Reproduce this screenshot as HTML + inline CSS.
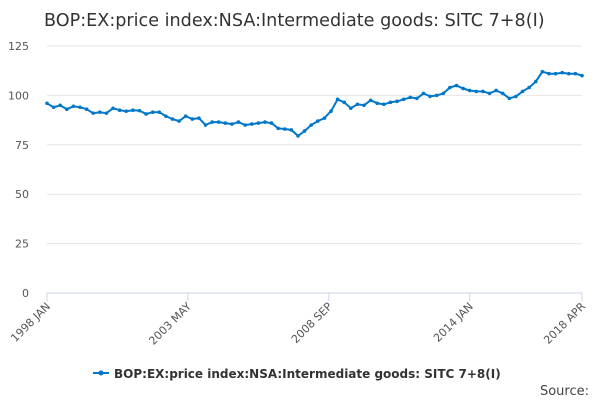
<!DOCTYPE html>
<html><head><meta charset="utf-8"><style>
body{margin:0;background:#fff;font-family:"Liberation Sans","DejaVu Sans",sans-serif}
svg text{font-family:"DejaVu Sans","Liberation Sans",sans-serif}
</style></head><body>
<svg id="chart" width="600" height="400" viewBox="0 0 600 400">
<text x="44" y="26" font-size="17.6" fill="#333">BOP:EX:price index:NSA:Intermediate goods: SITC 7+8(I)</text>
<g id="grid"></g><g id="yl"></g><g id="xl"></g>
<path id="line" fill="none" stroke="#0077c8" stroke-width="2"></path>
<g id="pts"></g>
<g>
<line x1="93" y1="373" x2="109" y2="373" stroke="#0077c8" stroke-width="2"/>
<circle cx="101" cy="373" r="2.5" fill="#0077c8"/>
<text x="114" y="378" font-size="12" font-weight="bold" fill="#333">BOP:EX:price index:NSA:Intermediate goods: SITC 7+8(I)</text>
</g>
<text x="589" y="395" font-size="13" text-anchor="end" fill="#444">Source:</text>
</svg>
<script>
const values=[96,94,95,93,94.5,94,93,91,91.5,91,93.5,92.5,92,92.5,92.3,90.6,91.5,91.5,89.5,88,87,89.5,88,88.5,85,86.5,86.5,86,85.5,86.5,85,85.5,86,86.5,86,83.3,83,82.5,79.5,82,85,87,88.5,92,98,96.5,93.5,95.5,95,97.5,96,95.5,96.5,97,98,99,98.5,101,99.5,100,101,104,105,103.5,102.5,102,102,101,102.5,101,98.5,99.5,102,104,107,112,111,111,111.5,111,111,110];
const yTicks=[0,25,50,75,100,125];
const xTickLabels=["1998 JAN","2003 MAY","2008 SEP","2014 JAN","2018 APR"];
const xTickMonths=[0,64,128,192,243];
const NS="http://www.w3.org/2000/svg";
const x0=47,x1=582,yb=293,yt=46;
const xs=m=>x0+(x1-x0)*m/243;
const ys=v=>yb-(yb-yt)*v/125;
function mk(t,a,p){const e=document.createElementNS(NS,t);for(const k in a)e.setAttribute(k,a[k]);p.appendChild(e);return e;}
const grid=document.getElementById('grid'),yl=document.getElementById('yl'),xl=document.getElementById('xl');
yTicks.forEach(v=>{
 const l=mk('line',{x1:x0,x2:x1,y1:ys(v),y2:ys(v),stroke:v===0?'#ccd6eb':'#e6e6e6','stroke-width':1},grid);
 
 
 const t=mk('text',{x:29,y:ys(v)+4,'font-size':11,fill:'#555','text-anchor':'end'},yl);
 t.textContent=v;
 
 
});
xTickMonths.forEach((m,i)=>{
 const x=xs(m);
 const tk=mk('line',{x1:x,x2:x,y1:yb,y2:yb+8,stroke:'#ccd6eb'},xl);
 
 
 const t=mk('text',{x:x+4,y:yb+14,'font-size':11,fill:'#555','text-anchor':'end',transform:`rotate(-45 ${x+4} ${yb+14})`},xl);
 t.textContent=xTickLabels[i];
 
 
});
let d='';const pts=document.getElementById('pts');
values.forEach((v,i)=>{
 const m=Math.min(243,i*3);const x=xs(m),y=ys(v);
 d+=(i?'L':'M')+x.toFixed(1)+' '+y.toFixed(1);
 const c=mk('circle',{cx:x,cy:y,r:1.8,fill:'#0077c8'},pts);
 
 
});
document.getElementById('line').setAttribute('d',d);
</script>
</body></html>
